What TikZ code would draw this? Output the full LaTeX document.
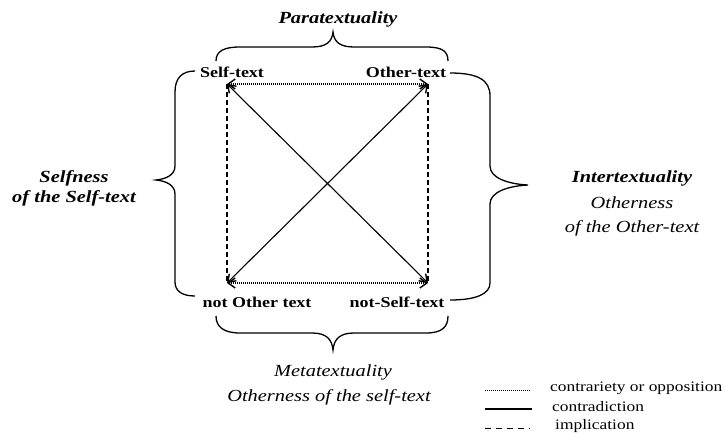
\documentclass[tikz,border=0pt]{standalone}
\usepackage{fontspec}
\setmainfont{Liberation Serif}[FakeStretch=1.2]
\usetikzlibrary{arrows.meta}
\begin{document}
\begin{tikzpicture}[x=1pt,y=-1pt,
  lab/.style={font=\fontsize{15}{17}\selectfont\bfseries, inner sep=0pt},
  it/.style={font=\fontsize{17}{19}\selectfont\itshape, inner sep=0pt},
  bit/.style={font=\fontsize{17}{19}\selectfont\bfseries\itshape, inner sep=0pt},
  leg/.style={font=\fontsize{14.5}{16}\selectfont, inner sep=0pt, anchor=west},
  brace/.style={line width=1.3pt},
  conn/.style={line width=1.1pt},
  tips/.style={{Straight Barb[length=7pt,width=10pt,line width=1.4pt]}-{Straight Barb[length=7pt,width=10pt,line width=1.4pt]}},
  dotl/.style={dash pattern=on 1pt off 1pt},
  dashl/.style={dash pattern=on 5pt off 3pt},
  legdash/.style={dash pattern=on 6pt off 5pt}]
\useasboundingbox (0,0) rectangle (728,437);
\fill[white] (0,0) rectangle (728,437);

% corners
\coordinate (TL) at (227,84);
\coordinate (TR) at (428,84);
\coordinate (BL) at (227,283);
\coordinate (BR) at (428,283);

% corner labels
\node[lab] (self) at (232,72) {Self-text};
\node[lab] (other) at (406,72) {Other-text};
\node[lab] (notother) at (257,302) {not Other text};
\node[lab] (notself) at (397,302) {not-Self-text};

% square
\draw[conn,dotl,tips] (TL) -- (TR);
\draw[conn,dotl,tips] (BL) -- (BR);
\draw[conn,dashl] (TL) -- (BL);
\draw[conn,dashl] (TR) -- (BR);
\draw[conn,tips] (TL) -- (BR);
\draw[conn,tips] (TR) -- (BL);

% braces
\draw[brace] (216,61) .. controls (216,51) and (224,47) .. (240,47) -- (312,47)
  .. controls (326,47) and (332,42) .. (333,32)
  .. controls (334,42) and (340,47) .. (354,47) -- (426,47)
  .. controls (442,47) and (448,51) .. (448,61);
\draw[brace] (216,316) .. controls (216,327) and (224,333) .. (240,333) -- (312,333)
  .. controls (326,333) and (332,339) .. (333,350)
  .. controls (334,339) and (340,333) .. (354,333) -- (426,333)
  .. controls (442,333) and (448,327) .. (448,316);
\draw[brace] (195,71) .. controls (182,71) and (175,78) .. (175,92) -- (175,166)
  .. controls (175,175) and (166,179) .. (156,180)
  .. controls (166,181) and (175,185) .. (175,194) -- (175,282)
  .. controls (175,291) and (182,296) .. (195,296);
\draw[brace] (450,73) .. controls (478,73) and (490,80) .. (490,96) -- (490,166)
  .. controls (490,178) and (508,184) .. (528,185)
  .. controls (508,186) and (490,192) .. (490,204) -- (490,283)
  .. controls (490,294) and (476,300) .. (450,300);

% brace labels
\node[bit] (para) at (338,19) {Paratextuality};
\node[bit] (selfness) at (74,178) {Selfness};
\node[bit] (selfness2) at (74,198) {of the Self-text};
\node[bit] (inter) at (632,178) {Intertextuality};
\node[it] (inter2) at (632,203) {Otherness};
\node[it] (inter3) at (632,228) {of the Other-text};
\node[it] (meta) at (333,372) {Metatextuality};
\node[it] (meta2) at (329,397) {Otherness of the self-text};

% legend
\coordinate (l1a) at (485,390); \coordinate (l1b) at (530,390);
\coordinate (l2a) at (485,409); \coordinate (l2b) at (532,409);
\coordinate (l3a) at (485,428); \coordinate (l3b) at (530,428);
\draw[line width=0.8pt,dotl] (l1a) -- (l1b);
\draw[line width=1.1pt] (l2a) -- (l2b);
\draw[line width=0.9pt,legdash] (l3a) -- (l3b);
\node[leg] (t1) at (550,388) {contrariety or opposition};
\node[leg] (t2) at (552,407) {contradiction};
\node[leg] (t3) at (555,426) {implication};
\end{tikzpicture}
\end{document}
